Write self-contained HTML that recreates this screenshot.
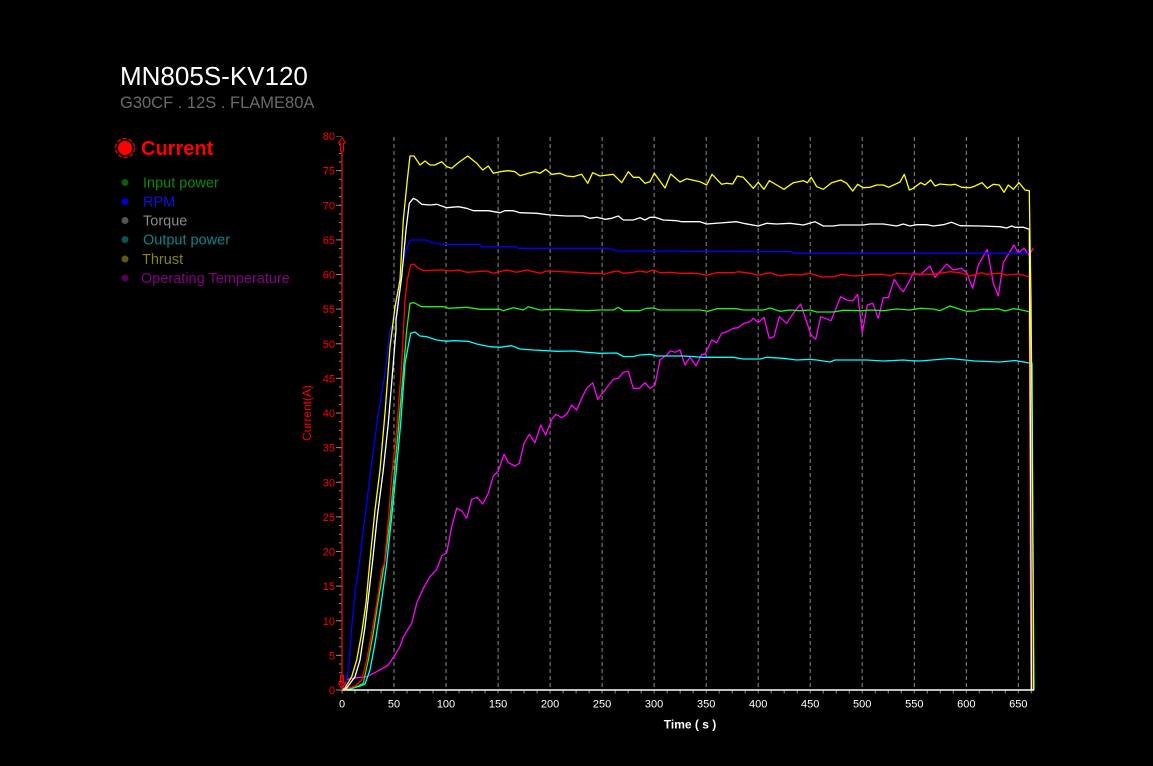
<!DOCTYPE html>
<html><head><meta charset="utf-8"><style>
html,body{margin:0;padding:0;background:#000;}
svg{display:block;}
text{font-family:"Liberation Sans",sans-serif;}
</style></head><body>
<svg width="1153" height="766" viewBox="0 0 1153 766" xmlns="http://www.w3.org/2000/svg">
<rect width="1153" height="766" fill="#000"/>
<!-- Titles -->
<text x="120" y="85" font-size="26" fill="#ffffff">MN805S-KV120</text>
<text x="120" y="108" font-size="16.5" fill="#6a6a6a">G30CF . 12S . FLAME80A</text>
<!-- Legend -->
<circle cx="125" cy="148" r="7" fill="#ff0000"/>
<circle cx="125" cy="148" r="9.5" fill="none" stroke="#ff0000" stroke-width="1.2" stroke-dasharray="4 2"/>
<text x="141" y="155" font-size="20" font-weight="bold" fill="#ff0000">Current</text>
<circle cx="125" cy="182.5" r="3.5" fill="#0d5a0d"/>
<text x="143" y="187.5" font-size="14.5" fill="#0a8a0a">Input power</text>
<circle cx="125" cy="201.5" r="3.5" fill="#0000d0"/>
<text x="143" y="206.5" font-size="14.5" fill="#1010e0">RPM</text>
<circle cx="125" cy="220.5" r="3.5" fill="#555555"/>
<text x="143" y="225.5" font-size="14.5" fill="#8a8a8a">Torque</text>
<circle cx="125" cy="239.5" r="3.5" fill="#0b5555"/>
<text x="143" y="244.5" font-size="14.5" fill="#0a8585">Output power</text>
<circle cx="125" cy="259" r="3.5" fill="#5a5a10"/>
<text x="142" y="264" font-size="14.5" fill="#858510">Thrust</text>
<circle cx="125" cy="278" r="3.5" fill="#550055"/>
<text x="141" y="283" font-size="14.5" fill="#850085">Operating Temperature</text>

<!-- Vertical dashed grid -->
<g stroke="#8a8a8a" stroke-width="1" stroke-dasharray="4 3">
<line x1="394" y1="137" x2="394" y2="690"/>
<line x1="446" y1="137" x2="446" y2="690"/>
<line x1="498.1" y1="137" x2="498.1" y2="690"/>
<line x1="550.1" y1="137" x2="550.1" y2="690"/>
<line x1="602.1" y1="137" x2="602.1" y2="690"/>
<line x1="654.1" y1="137" x2="654.1" y2="690"/>
<line x1="706.2" y1="137" x2="706.2" y2="690"/>
<line x1="758.2" y1="137" x2="758.2" y2="690"/>
<line x1="810.2" y1="137" x2="810.2" y2="690"/>
<line x1="862.2" y1="137" x2="862.2" y2="690"/>
<line x1="914.3" y1="137" x2="914.3" y2="690"/>
<line x1="966.3" y1="137" x2="966.3" y2="690"/>
<line x1="1018.3" y1="137" x2="1018.3" y2="690"/>
</g>

<!-- Y ticks -->
<line x1="340.5" y1="690.5" x2="340.5" y2="136" stroke="#888" stroke-width="3" stroke-dasharray="1 7.656"/>
<line x1="339" y1="690.5" x2="339" y2="136" stroke="#888" stroke-width="6" stroke-dasharray="1 33.625"/>
<!-- X ticks -->
<line x1="341.5" y1="692" x2="1034" y2="692" stroke="#888" stroke-width="3" stroke-dasharray="1 12.006"/>

<!-- Y labels -->
<g font-size="11" fill="#ff0000" text-anchor="end">
<text x="335" y="694">0</text>
<text x="335" y="659.4">5</text>
<text x="335" y="624.8">10</text>
<text x="335" y="590.1">15</text>
<text x="335" y="555.5">20</text>
<text x="335" y="520.9">25</text>
<text x="335" y="486.3">30</text>
<text x="335" y="451.6">35</text>
<text x="335" y="417">40</text>
<text x="335" y="382.4">45</text>
<text x="335" y="347.8">50</text>
<text x="335" y="313.1">55</text>
<text x="335" y="278.5">60</text>
<text x="335" y="243.9">65</text>
<text x="335" y="209.3">70</text>
<text x="335" y="174.6">75</text>
<text x="335" y="140">80</text>
</g>
<text x="311" y="413" font-size="12" fill="#ff0000" text-anchor="middle" transform="rotate(-90 311 413)">Current(A)</text>

<!-- X labels -->
<g font-size="11" fill="#ffffff" text-anchor="middle">
<text x="342" y="707.5">0</text>
<text x="394" y="707.5">50</text>
<text x="446" y="707.5">100</text>
<text x="498.1" y="707.5">150</text>
<text x="550.1" y="707.5">200</text>
<text x="602.1" y="707.5">250</text>
<text x="654.1" y="707.5">300</text>
<text x="706.2" y="707.5">350</text>
<text x="758.2" y="707.5">400</text>
<text x="810.2" y="707.5">450</text>
<text x="862.2" y="707.5">500</text>
<text x="914.3" y="707.5">550</text>
<text x="966.3" y="707.5">600</text>
<text x="1018.3" y="707.5">650</text>
</g>
<text x="690" y="728.5" font-size="12" font-weight="bold" fill="#ffffff" text-anchor="middle">Time ( s )</text>

<!-- Series -->
<g fill="none" stroke-width="1.3" stroke-linejoin="round">
<!-- Temperature -->
<polyline stroke="#ff00ff" points="342,689 347.3,679.3 360,677.3 366.7,676.7 376.7,671.7 388.3,665 395,655 400,646.7 403.3,637 411.7,623.3 416.7,603.3 423.3,588.3 430,576.7 436.7,569.3 441.7,556 446.7,552.7 451.7,526.7 456.7,508.3 461.7,510.7 466.7,518.3 471.7,499.3 477.3,497.3 482.7,504 488.3,493.3 493.3,476 498.3,471 504,454.3 508.3,462.7 515,466 519.3,463.3 524,443.3 529.3,434.3 535,442.7 540.7,425 545.7,435 551.7,419.3 556,414.3 561.7,417.7 566.7,414.3 571.7,405 576.7,410 582.7,396 586.7,388.3 592.7,382.7 597.7,399.3 605,390 613.3,379.3 618.3,378.3 623.3,372.3 628.3,371.3 633.3,388.3 639.3,388.3 645,382.7 650,388.3 655,385 660,360 666.7,355 670.7,350.7 675,352.3 680,350 685,365 690,357.3 696,365.7 701.7,354.3 705,354.3 711.7,340 716.7,342.7 721.7,333.3 726.7,331.7 733.3,328.3 738.3,327.7 744,323.3 750,321.7 753.3,318.3 758.3,322.7 764,317.3 769.3,338.3 774,336.7 779.3,316.7 786.7,323.3 793.3,313.3 800.7,304 806,320 811,335 815.7,339.3 820.7,316.7 825,318.3 831,320.7 840.7,296.7 846.7,300 852.7,301 857.7,294.3 862.3,332.7 867.3,305 872.7,303.3 878.3,318.3 883.3,297.7 888.3,297.7 894.3,279.3 900,288.3 903.3,291.7 908.3,283.3 913.3,272.7 920,275 930,266 935,277.3 946.7,264 953.3,270 961.7,268.3 966.7,272.7 972.7,288.3 978.3,265 987.3,249.3 993.3,283.3 998.3,296 1003.3,262.7 1014,245 1018.3,253.3 1024,248.3 1029,255 1033.3,248.3"/>
<!-- Output power -->
<polyline stroke="#00ffff" points="342,690 350,689 360,686 365,684 370,670 375,643.3 380.7,606.7 386.7,563.3 391.7,516.7 396,473.3 400.7,423.3 405,363.3 410.7,333.3 415,332 420,336 426.7,336.7 436.7,340 446.7,341.3 453.3,340.7 468.3,341.3 476.7,344 490,346.7 500,347.3 511.7,345.7 520,349 533.3,350 546.7,350.7 556.7,351.3 573.3,351 586.7,352.3 600,353.3 616.7,353 623.3,356.5 633.3,356.5 640,355 650,354.3 656.7,356 683.3,356 703.3,357.3 733.3,357.3 743.3,359 760,359 766.7,357.3 783.3,358.3 796.7,360 810,359.3 816.7,360 830,362 835,360 866.7,360 883.3,361 903.3,360 910,360.7 920,361 950,358.5 975,361 1000,362 1015,360.5 1029.3,363 1032,363 1033,560 1034,690"/>
<!-- Input power -->
<polyline stroke="#22ee22" points="342,690 352,688.5 358,686 363.3,683.3 368.3,660 373.3,633.3 378.3,600 385,560 390,520 394,476.7 398.3,430 404,363.3 406.7,330 410,303.3 414,302.7 421.7,306.7 443.3,306.7 448.3,308.3 466.7,307.3 480,309.3 500,309.3 503.3,310.7 513.3,307.7 523.3,310 528.3,306.7 540,310 556.7,309.3 586.7,310.7 600,310 613.3,310 618.3,307.3 623.3,310.7 640,310.7 646.7,308.3 653.3,308 660,310 700,310 708.3,311.3 716.7,308.7 736.7,308.7 743.3,310 763.3,310 770,308 780,311.3 790,310 800,310.7 810,310 816.7,312 833.3,312 843.3,310.3 863.3,310.7 870,310 883.3,310.7 896.7,309 910,310 920,308.3 933.3,309 940,310.7 950,306 960,309.3 966.7,311.3 975,311 981.7,309.3 993.3,309.3 998.3,308.7 1005,311 1013.3,308.7 1018.3,309.3 1029.3,311.7 1030,400 1031,690"/>
<!-- Current -->
<polyline stroke="#ff0000" points="342,690 348,688 355,686 361.7,680 366.7,660 371.7,633 377.3,600 381.7,570 384.3,563.3 388.3,520 391.7,476.7 396.7,430 401.7,363.3 405,300 407.3,280 410.7,265 414,264 418.3,268.3 423.3,270.5 443.3,270 450,271 458.3,270 466.7,272.3 486.7,271 493.3,273.3 506.7,270 516.7,272.3 526.7,270 540,273.3 546.7,271 576.7,272.3 590,273.3 600,273.3 605,274.3 610,272.3 618.3,271 623.3,273.3 633.3,272.3 640,271 646.7,272.3 653.3,270 660,272.7 670,272.3 680,273.3 696.7,273.3 706.7,275.3 716.7,272.7 733.3,272.7 738.3,271.7 750,273.3 758.3,275.3 770,272.7 780,276 790,274.3 800,275 810,273.3 821.7,277 833.3,276.7 841.7,274.3 853.3,276 863.3,275.3 871.7,274.3 883.3,274.3 890,276 896.7,273.3 910,274 933.3,274.3 950,271.7 960,272.7 970,276 981.7,272.7 986.7,274.3 1000,273.3 1006.7,275 1018.3,274 1029.3,276.7 1030,500 1031,690"/>
<!-- RPM -->
<polyline stroke="#0000ff" points="342,690 345,688 347.3,676.7 349.3,660 351.7,626.7 355,593 359.3,563.3 365,516.7 371.7,463.3 378.3,413.3 385,373.3 390,330 396,316.7 400,280 405,253.3 410,240 426.7,240 430,242.3 440,244.3 480,244.3 481.7,246.7 515,246.7 518.3,248.3 608.3,248.3 616.7,251 791.7,251.7 793.3,253.3 1030,253.3 1030.5,345 1031.5,690"/>
<!-- Torque -->
<polyline stroke="#ffffff" points="342,690 346.7,688 355,676.7 360,660 365,626.7 372.7,560 377.3,516.7 383.3,470 388.3,423.3 393.3,363.3 396,330 396,320 401.7,276.7 406,230 409.3,203.3 413.3,198.3 416.7,200 421.7,204.3 430,205 436.7,204.3 446.7,207.7 458.3,206.7 466.7,208.3 473.3,210.7 488.3,210.7 500,212.7 505,210.7 513.3,210.7 520,212.7 536.7,213.3 550,215 566.7,216 583.3,216 590,218.3 596.7,217.3 605,219.3 611.7,218.3 618.3,216 623.3,220 633.3,220 640,217.7 645,220 650,217.3 655,217.3 663.3,220 676.7,220.7 681.7,221.7 700,221.7 706.7,224 736.7,221.7 743.3,223.3 758.3,226 766.7,223.3 776.7,224 790,223.3 803.3,225 815,221.7 823.3,226 833.3,226 840,225 863.3,225 870,224 883.3,224 896.7,226 903.3,224 910,226 916.7,224.7 926.7,224.7 933.3,226 943.3,224.7 951.7,222.3 960,225.7 980,226 1000,226.7 1006.7,228 1011.7,226 1015,227.3 1023.3,227.3 1029.3,229.3 1030.5,450 1031.5,690"/>
<!-- Thrust -->
<polyline stroke="#ffff00" points="342,690 345,688 351.7,676.7 356.7,660 361.7,633 366,603 370,560 375,510 380,470 385,413 390,347 395,307 400,280 403.3,220 407.3,180 410,156 414,156 420,165 425,161 430,165 435,165 441.7,161.7 446.7,166.7 451.7,168.3 458,163 467.7,156 476.7,163.3 482.7,170 488.3,166 493.3,173.3 500,171.7 508.3,170.7 515,171.7 520,175.7 528.3,173.3 535,171.7 540,173.3 545.7,169.3 551.7,174.3 560,173.3 566.7,176 573.3,176.7 581.7,174.3 587.7,183.3 592.7,172.7 600,176 613.3,174.3 621.7,182.7 628.3,171.7 633.3,177.3 639.3,177.3 645,183.3 650,181.7 654.3,173.3 665,188 670.7,174 680,182 686.7,178.7 700,181.7 706.7,185 712,174.3 721.7,184.3 726.7,183.3 732.7,184 737.3,176 743.3,177.3 748.7,183.3 753.3,188.3 758.3,182.3 764,189.3 769.3,180.7 776.7,185 784,189.3 793.3,182.7 803.3,180.7 807.3,182.7 811.3,177.3 816.7,186.7 823.3,189.3 831.7,182.7 840.7,180 846.7,183.3 852.7,191 857.7,184.3 863.3,187.7 870,187.3 876.7,185 883.3,185 888.7,187.3 895,184.3 900,182 904.3,174.3 909.3,190 913.3,188.3 920.7,182.7 925,185 930.7,180 935,186 940,184 950,185 955,184.3 961.7,187.3 970,187.7 975,186 982,182.7 987.3,188.3 993.3,184.3 999.3,185 1004,192.3 1008.3,185 1013.3,189.3 1019,182.7 1025,190 1029.3,190.7 1030,240 1031,300 1032,420 1033,560 1033.5,690"/>
</g>

<!-- Axes -->
<line x1="342" y1="690" x2="1034" y2="690" stroke="#ffffff" stroke-width="1.5"/>
<line x1="342" y1="150" x2="342" y2="690" stroke="#e01010" stroke-width="1.3"/>
<!-- top arrow -->
<path d="M342,137.5 L345.5,143 L343.5,143 L343.5,151 L340.5,151 L340.5,143 L338.5,143 Z" fill="#000" stroke="#ff0000" stroke-width="1"/>
<!-- bottom arrow -->
<path d="M342,689.5 L338.5,683 L340.5,683 L340.5,675.5 L343.5,675.5 L343.5,683 L345.5,683 Z" fill="none" stroke="#ff0000" stroke-width="1"/>
</svg>
</body></html>
